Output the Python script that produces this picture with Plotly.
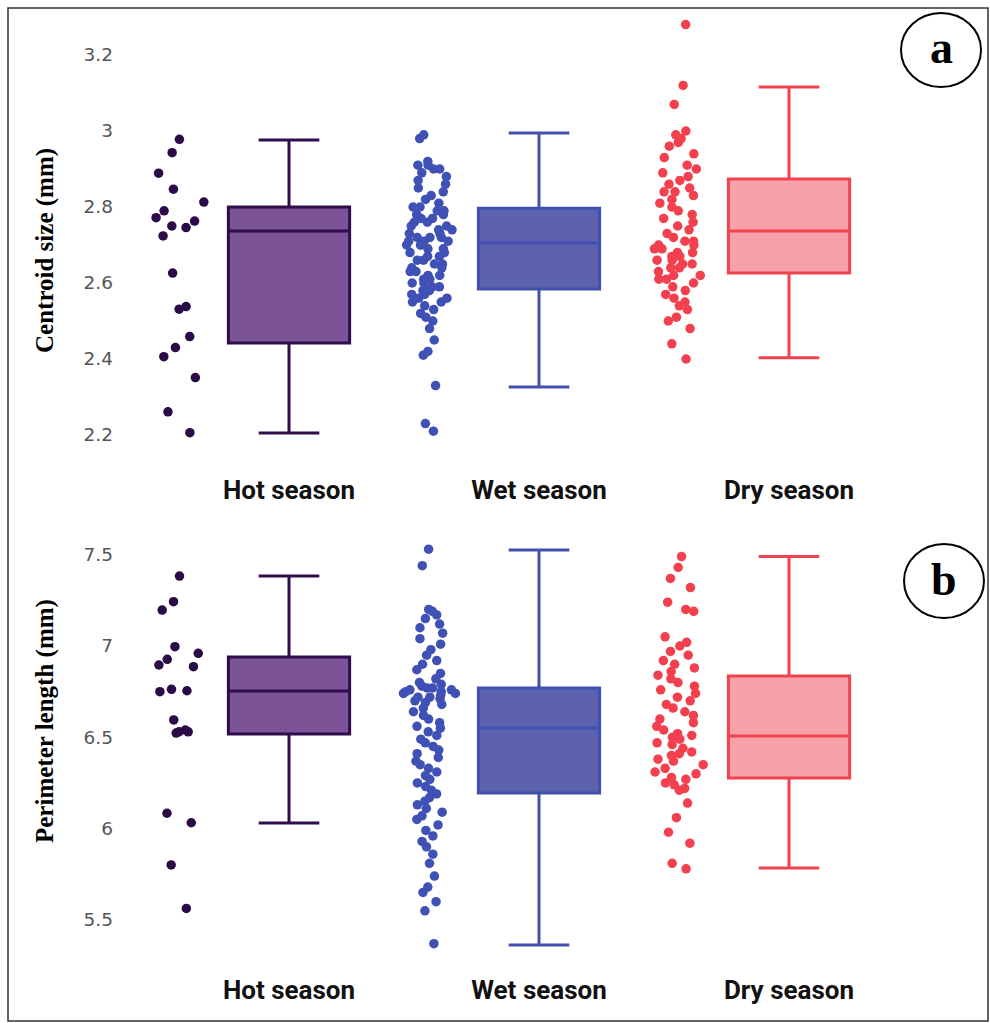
import plotly.graph_objects as go

W, H = 990, 1023

categories = ["Hot season", "Wet season", "Dry season"]

# ---- Panel a: Centroid size (mm) : raw points ----
hot_a = [2.978, 2.943, 2.889, 2.847, 2.813, 2.790, 2.772, 2.763, 2.750, 2.746,
         2.724, 2.626, 2.538, 2.531, 2.459, 2.430, 2.406, 2.351, 2.261, 2.206]
wet_a = [2.99, 2.98, 2.92, 2.91, 2.91, 2.90, 2.90, 2.89, 2.88, 2.87, 2.86, 2.85,
         2.84, 2.83, 2.82, 2.81, 2.80, 2.80, 2.79, 2.79, 2.78, 2.78, 2.77, 2.77,
         2.76, 2.76, 2.75, 2.75, 2.74, 2.74, 2.73, 2.73, 2.72, 2.72, 2.72, 2.71,
         2.71, 2.71, 2.70, 2.70, 2.70, 2.69, 2.69, 2.68, 2.68, 2.67, 2.67, 2.66,
         2.66, 2.65, 2.65, 2.64, 2.64, 2.63, 2.63, 2.62, 2.62, 2.61, 2.61, 2.60,
         2.60, 2.59, 2.59, 2.58, 2.58, 2.57, 2.57, 2.56, 2.56, 2.55, 2.55, 2.54,
         2.53, 2.52, 2.51, 2.50, 2.48, 2.45, 2.42, 2.41, 2.33, 2.23, 2.21]
dry_a = [3.28, 3.12, 3.07, 3.00, 2.99, 2.98, 2.97, 2.96, 2.94, 2.93, 2.91, 2.90,
         2.89, 2.88, 2.87, 2.86, 2.85, 2.84, 2.84, 2.83, 2.82, 2.81, 2.80, 2.79,
         2.78, 2.77, 2.76, 2.75, 2.74, 2.73, 2.72, 2.71, 2.71, 2.70, 2.70, 2.69,
         2.69, 2.68, 2.68, 2.67, 2.67, 2.66, 2.66, 2.65, 2.65, 2.64, 2.64, 2.63,
         2.62, 2.62, 2.61, 2.61, 2.60, 2.59, 2.58, 2.57, 2.56, 2.55, 2.54, 2.53,
         2.51, 2.50, 2.48, 2.44, 2.40]

# box statistics panel a (hot, wet, dry)
q1_a = [2.442, 2.584, 2.626]
med_a = [2.737, 2.705, 2.737]
q3_a = [2.800, 2.797, 2.874]
lo_a = [2.205, 2.326, 2.403]
hi_a = [2.976, 2.995, 3.116]

# ---- Panel b: Perimeter length (mm) ----
hot_b = [7.383, 7.243, 7.197, 6.996, 6.960, 6.927, 6.896, 6.887, 6.763, 6.755,
         6.750, 6.595, 6.540, 6.531, 6.530, 6.523, 6.084, 6.032, 5.801, 5.563]
wet_b = [7.53, 7.44, 7.20, 7.19, 7.17, 7.15, 7.12, 7.10, 7.07, 7.04, 7.01, 6.98,
         6.95, 6.92, 6.90, 6.87, 6.85, 6.82, 6.80, 6.79, 6.78, 6.77, 6.77, 6.76,
         6.76, 6.75, 6.75, 6.74, 6.74, 6.73, 6.72, 6.72, 6.71, 6.70, 6.69, 6.68,
         6.66, 6.64, 6.62, 6.60, 6.58, 6.56, 6.55, 6.53, 6.51, 6.49, 6.47, 6.45,
         6.43, 6.41, 6.39, 6.37, 6.35, 6.33, 6.31, 6.29, 6.27, 6.25, 6.23, 6.21,
         6.19, 6.17, 6.15, 6.13, 6.11, 6.09, 6.07, 6.05, 6.02, 5.99, 5.96, 5.93,
         5.90, 5.86, 5.81, 5.74, 5.68, 5.65, 5.60, 5.55, 5.37]
dry_b = [7.49, 7.43, 7.37, 7.32, 7.24, 7.20, 7.19, 7.05, 7.02, 7.00, 6.97, 6.95,
         6.92, 6.90, 6.88, 6.86, 6.84, 6.82, 6.80, 6.78, 6.76, 6.74, 6.72, 6.70,
         6.68, 6.66, 6.64, 6.62, 6.60, 6.58, 6.56, 6.54, 6.52, 6.51, 6.50, 6.49,
         6.47, 6.46, 6.44, 6.42, 6.41, 6.40, 6.38, 6.37, 6.35, 6.33, 6.31, 6.30,
         6.28, 6.27, 6.25, 6.24, 6.22, 6.21, 6.14, 6.06, 5.98, 5.92, 5.81, 5.78]

q1_b = [6.518, 6.195, 6.277]
med_b = [6.754, 6.551, 6.507]
q3_b = [6.940, 6.770, 6.836]
lo_b = [6.030, 5.363, 5.784]
hi_b = [7.383, 7.526, 7.490]

point_colors = ["#2b0b47", "#3f51b5", "#f2404e"]
line_colors = ["#2f0c4b", "#4150ad", "#f0424f"]
fill_colors = ["#7b5396", "#5c62b0", "#f8a1a9"]

BOX_W = 0.485


def px_x(p):
    return p / W


def px_y(p):
    return 1 - p / H


fig = go.Figure()


def add_panel(data_lists, q1, med, q3, lo, hi, xa, ya):
    for i, cat in enumerate(categories):
        # points only
        fig.add_trace(go.Box(
            x=[cat] * len(data_lists[i]), y=data_lists[i],
            boxpoints="all", jitter=0.45, pointpos=-1.8, width=BOX_W,
            marker=dict(color=point_colors[i], size=9.5),
            line=dict(width=0, color="rgba(0,0,0,0)"),
            fillcolor="rgba(0,0,0,0)", whiskerwidth=0,
            showlegend=False, xaxis=xa, yaxis=ya, hoverinfo="y",
        ))
        # box from statistics
        fig.add_trace(go.Box(
            x=[cat], q1=[q1[i]], median=[med[i]], q3=[q3[i]],
            lowerfence=[lo[i]], upperfence=[hi[i]],
            width=BOX_W, whiskerwidth=0.5, boxpoints=False,
            line=dict(color=line_colors[i], width=3),
            fillcolor=fill_colors[i],
            showlegend=False, xaxis=xa, yaxis=ya,
        ))


add_panel([hot_a, wet_a, dry_a], q1_a, med_a, q3_a, lo_a, hi_a, "x", "y")
add_panel([hot_b, wet_b, dry_b], q1_b, med_b, q3_b, lo_b, hi_b, "x2", "y2")

x_left, x_right = 130, 960
c_left = (x_left - 289) / 250
c_right = (x_right - 289) / 250

xcommon = dict(
    type="category", categoryorder="array", categoryarray=categories,
    range=[c_left, c_right], domain=[px_x(x_left), px_x(x_right)],
    showgrid=False, zeroline=False, showline=False, ticks="",
    tickfont=dict(family="Roboto", size=26, color="#111111", weight="bold"),
)
ycommon = dict(
    showgrid=False, zeroline=False, showline=False, ticks="",
    tickfont=dict(family="DejaVu Sans", size=18.5, color="#555555"),
    ticklabelstandoff=16,
)

# panel a: y(v) = 131 - (v-3)*380, plot from 15 to 455 px
ya_top = 3 + (131 - 15) / 380
ya_bot = 3 - (455 - 131) / 380
# panel b: y(v) = 646 - (v-7)*182.6, plot from 535 to 960 px
yb_top = 7 + (646 - 535) / 182.6
yb_bot = 7 - (960 - 646) / 182.6

fig.update_layout(
    width=W, height=H,
    margin=dict(l=0, r=0, t=0, b=0),
    paper_bgcolor="white", plot_bgcolor="white",
    boxmode="overlay",
    xaxis=dict(**xcommon, anchor="y", ticklabelstandoff=17),
    yaxis=dict(**ycommon, anchor="x", range=[ya_bot, ya_top],
               domain=[px_y(455), px_y(15)],
               tickvals=[2.2, 2.4, 2.6, 2.8, 3.0, 3.2],
               ticktext=["2.2", "2.4", "2.6", "2.8", "3", "3.2"]),
    xaxis2=dict(**xcommon, anchor="y2", ticklabelstandoff=12),
    yaxis2=dict(**ycommon, anchor="x2", range=[yb_bot, yb_top],
                domain=[px_y(960), px_y(535)],
                tickvals=[5.5, 6.0, 6.5, 7.0, 7.5],
                ticktext=["5.5", "6", "6.5", "7", "7.5"]),
)

serif = "Liberation Serif"
fig.add_annotation(text="Centroid size (mm)", textangle=-90,
                   x=px_x(45), y=px_y(251), xref="paper", yref="paper",
                   xanchor="center", yanchor="middle", showarrow=False,
                   font=dict(family=serif, size=25, color="black", weight="bold"))
fig.add_annotation(text="Perimeter length (mm)", textangle=-90,
                   x=px_x(45), y=px_y(721), xref="paper", yref="paper",
                   xanchor="center", yanchor="middle", showarrow=False,
                   font=dict(family=serif, size=25, color="black", weight="bold"))

# panel letters in ellipses
for letter, cx, cy in [("a", 941, 50), ("b", 944, 581)]:
    fig.add_shape(type="circle", xref="paper", yref="paper",
                  x0=px_x(cx - 40), x1=px_x(cx + 40),
                  y0=px_y(cy + 37), y1=px_y(cy - 37),
                  line=dict(color="black", width=2), fillcolor="rgba(0,0,0,0)")
    fig.add_annotation(text=letter, x=px_x(cx), y=px_y(cy - 2),
                       xref="paper", yref="paper", showarrow=False,
                       xanchor="center", yanchor="middle",
                       font=dict(family=serif, size=46, color="black", weight="bold"))

# outer frame
fig.add_shape(type="rect", xref="paper", yref="paper",
              x0=px_x(8), x1=px_x(988), y0=px_y(1021), y1=px_y(8),
              line=dict(color="#333333", width=1.5))

fig.write_html("out.html",
               config={"displayModeBar": False},
               post_script="document.body.style.margin='0';"
                           "document.body.style.overflow='hidden';")
